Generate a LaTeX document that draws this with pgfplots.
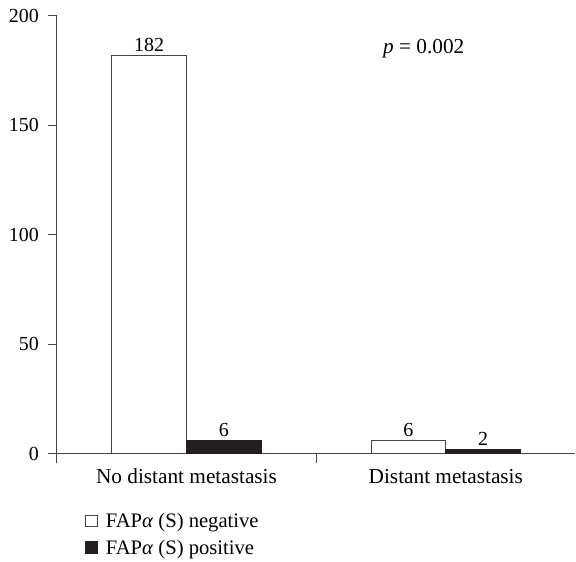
\documentclass[border=0pt]{standalone}
\usepackage{fontspec}
\setmainfont{Liberation Serif}
\usepackage{pgfplots}
\pgfplotsset{compat=1.18}
\definecolor{axgray}{HTML}{444444}
\definecolor{barblack}{HTML}{231F20}
\begin{document}
\begin{tikzpicture}[font=\fontsize{15}{18}\selectfont]
\begin{axis}[
    at={(0,0)}, anchor=south west,
    scale only axis,
    width=390pt, height=329.25pt,
    xmin=0, xmax=2,
    ymin=0, ymax=200,
    axis x line=bottom, axis y line=left,
    axis line style={-, draw=axgray, line width=0.8pt},
    ybar=0pt, bar width=56.25pt,
    ytick={0,50,100,150,200},
    xtick={0,1},
    xticklabels={},
    extra x ticks={0.5,1.5},
    extra x tick labels={No distant metastasis, Distant metastasis},
    extra x tick style={major tick length=0pt,
        xticklabel style={font=\fontsize{16}{19}\selectfont, yshift=-8pt}},
    tick align=outside,
    major tick length=7pt,
    tick style={draw=axgray, line width=0.8pt},
    /pgf/number format/assume math mode=true,
    yticklabel style={xshift=-3pt},
    nodes near coords,
    every node near coord/.append style={font=\fontsize{15}{18}\selectfont, yshift=-1pt},
    legend style={at={(axis description cs:0.054,-0.128)}, anchor=north west,
        draw=none, fill=none, row sep=4pt, column sep=4pt, inner sep=0pt,
        font=\fontsize{15.5}{18}\selectfont},
    legend cell align=left,
    clip=false,
]
\addplot[draw=axgray, fill=white, line width=0.7pt,
    legend image code/.code={\draw[draw=axgray, fill=white, line width=0.6pt] (0pt,-4.5pt) rectangle (9pt,4.5pt);}]
    coordinates {(0.5,182) (1.5,6)};
\addplot[draw=barblack, fill=barblack, line width=0.7pt,
    legend image code/.code={\draw[draw=barblack, fill=barblack, line width=0.6pt] (0pt,-4.5pt) rectangle (9pt,4.5pt);}]
    coordinates {(0.5,6) (1.5,2)};
\legend{FAP\textit{α} (S) negative, FAP\textit{α} (S) positive}
\node[font=\fontsize{16}{19}\selectfont] at (axis cs:1.415,185) {\textit{p} = 0.002};
\end{axis}
\path[use as bounding box] (-42.75pt,-81pt) rectangle (389.25pt,341.25pt);
\end{tikzpicture}
\end{document}
